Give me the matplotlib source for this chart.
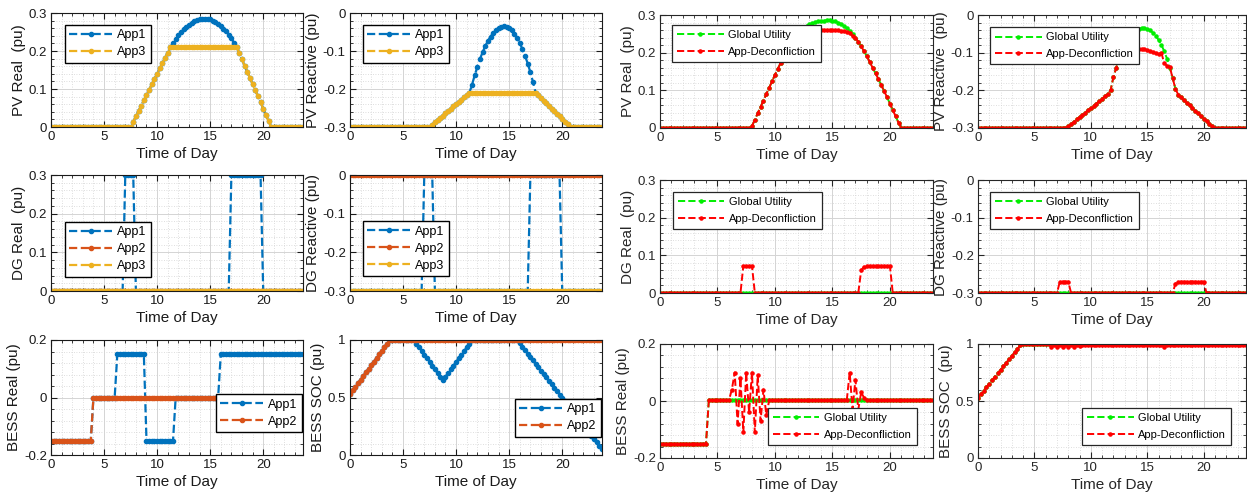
import numpy as np
import matplotlib.pyplot as plt
from matplotlib.ticker import MultipleLocator, FuncFormatter

plt.rcParams["font.family"] = ["Liberation Sans", "DejaVu Sans"]

W, H = 1247, 504

# 15-minute steps over one day
hours = np.arange(0, 24, 0.25)

# ---------------- left block: per-application dispatch ----------------
pv_real_app1 = ([0.0] * 31
                + [0.014, 0.028, 0.042, 0.056, 0.070, 0.084, 0.098, 0.112, 0.126, 0.140,
                   0.154, 0.168, 0.182, 0.196, 0.210]
                + [0.221, 0.231, 0.241, 0.249, 0.257, 0.263, 0.269, 0.274, 0.278, 0.281,
                   0.283, 0.285, 0.285, 0.284, 0.283, 0.280, 0.277, 0.272, 0.266, 0.259,
                   0.252, 0.243, 0.233, 0.222]
                + [0.210, 0.194, 0.178, 0.161, 0.145, 0.129, 0.113, 0.097, 0.081, 0.065,
                   0.048, 0.032, 0.016, 0.0]
                + [0.0] * 12)
pv_real_app3 = ([0.0] * 31
                + [0.014, 0.028, 0.042, 0.056, 0.070, 0.084, 0.098, 0.112, 0.126, 0.140,
                   0.154, 0.168, 0.182, 0.196, 0.210]
                + [0.210] * 24
                + [0.210, 0.194, 0.178, 0.161, 0.145, 0.129, 0.113, 0.097, 0.081, 0.065,
                   0.048, 0.032, 0.016, 0.0]
                + [0.0] * 12)

pv_reac_app1 = ([-0.3] * 31
                + [-0.294, -0.288, -0.282, -0.276, -0.270, -0.264, -0.258, -0.252, -0.246,
                   -0.240, -0.234, -0.228, -0.222, -0.216, -0.210]
                + [-0.189, -0.164, -0.142, -0.121, -0.103, -0.087, -0.073, -0.062, -0.052,
                   -0.045, -0.039, -0.036, -0.035, -0.036, -0.040, -0.046, -0.054, -0.065,
                   -0.079, -0.095, -0.113, -0.133, -0.156, -0.182]
                + [-0.210, -0.217, -0.224, -0.231, -0.238, -0.245, -0.252, -0.258, -0.265,
                   -0.272, -0.279, -0.286, -0.293, -0.300]
                + [-0.3] * 12)
pv_reac_app3 = ([-0.3] * 31
                + [-0.294, -0.288, -0.282, -0.276, -0.270, -0.264, -0.258, -0.252, -0.246,
                   -0.240, -0.234, -0.228, -0.222, -0.216, -0.210]
                + [-0.210] * 24
                + [-0.210, -0.217, -0.224, -0.231, -0.238, -0.245, -0.252, -0.258, -0.265,
                   -0.272, -0.279, -0.286, -0.293, -0.300]
                + [-0.3] * 12)

dg_real_app1 = [0.0] * 28 + [0.3] * 4 + [0.0] * 36 + [0.3] * 12 + [0.0] * 16
dg_real_app2 = [0.0] * 96
dg_real_app3 = [0.0] * 96

dg_reac_app1 = [-0.3] * 28 + [0.0] * 4 + [-0.3] * 36 + [0.0] * 12 + [-0.3] * 16
dg_reac_app2 = [0.0] * 96
dg_reac_app3 = [-0.3] * 96

bess_real_app1 = [-0.15] * 16 + [0.0] * 9 + [0.15] * 11 + [-0.15] * 11 + [0.0] * 17 + [0.15] * 32
bess_real_app2 = [-0.15] * 16 + [0.0] * 80

soc_ramp = [0.53, 0.561, 0.593, 0.624, 0.655, 0.687, 0.718, 0.749, 0.781, 0.812,
            0.843, 0.875, 0.906, 0.937, 0.969, 1.0]
bess_soc_app1 = (soc_ramp + [1.0] * 9
                 + [0.968, 0.936, 0.905, 0.873, 0.841, 0.809, 0.777, 0.745, 0.714, 0.682, 0.650]
                 + [0.682, 0.714, 0.745, 0.777, 0.809, 0.841, 0.873, 0.905, 0.936, 0.968, 1.0]
                 + [1.0] * 17
                 + [0.970, 0.941, 0.911, 0.881, 0.852, 0.822, 0.792, 0.763, 0.733, 0.703,
                    0.674, 0.644, 0.614, 0.584, 0.555, 0.525, 0.495, 0.466, 0.436, 0.406,
                    0.377, 0.347, 0.317, 0.288, 0.258, 0.228, 0.198, 0.169, 0.139, 0.109,
                    0.080, 0.050])
bess_soc_app2 = soc_ramp + [1.0] * 80

# ---------------- right block: global utility vs app-deconfliction ----------------
pv_real_gu = ([0.0] * 32
              + [0.005, 0.022, 0.039, 0.056, 0.073, 0.090, 0.107, 0.124, 0.141, 0.157,
                 0.173, 0.189, 0.204, 0.218, 0.231, 0.242, 0.252, 0.260, 0.266, 0.271,
                 0.275, 0.278, 0.281, 0.283, 0.284, 0.285, 0.286, 0.286, 0.285, 0.283,
                 0.280, 0.276, 0.271, 0.265, 0.258, 0.250, 0.240, 0.229, 0.217, 0.204,
                 0.190, 0.175, 0.160, 0.145, 0.130, 0.114, 0.098, 0.082, 0.065, 0.048,
                 0.031, 0.014]
              + [0.0] * 12)
pv_real_ad = ([0.0] * 32
              + [0.005, 0.022, 0.039, 0.056, 0.073, 0.090, 0.107, 0.124, 0.141, 0.157,
                 0.173, 0.189, 0.204, 0.218, 0.231, 0.242, 0.252, 0.260]
              + [0.262, 0.262, 0.262, 0.262, 0.262, 0.261, 0.261, 0.261, 0.260, 0.260,
                 0.260, 0.259, 0.259, 0.258, 0.257, 0.256, 0.252, 0.244, 0.240]
              + [0.229, 0.217, 0.204, 0.190, 0.175, 0.160, 0.145, 0.130, 0.114, 0.098,
                 0.082, 0.065, 0.048, 0.031, 0.014]
              + [0.0] * 12)

pv_reac_gu = ([-0.3] * 32
              + [-0.296, -0.290, -0.284, -0.277, -0.271, -0.265, -0.259, -0.253, -0.247,
                 -0.241, -0.235, -0.229, -0.222, -0.216, -0.210, -0.200, -0.165, -0.140,
                 -0.117, -0.097, -0.080, -0.066, -0.054, -0.045, -0.039, -0.036, -0.035,
                 -0.035, -0.037, -0.041, -0.047, -0.055, -0.066, -0.079, -0.096, -0.116,
                 -0.140, -0.167, -0.196, -0.212, -0.219, -0.226, -0.233, -0.240, -0.247,
                 -0.254, -0.261, -0.268, -0.275, -0.282, -0.289, -0.296]
              + [-0.3] * 12)
pv_reac_ad = ([-0.3] * 32
              + [-0.296, -0.290, -0.284, -0.277, -0.271, -0.265, -0.259, -0.253, -0.247,
                 -0.241, -0.235, -0.229, -0.222, -0.216, -0.210, -0.200, -0.165, -0.140,
                 -0.117]
              + [-0.100, -0.096, -0.095, -0.094, -0.093, -0.092, -0.091, -0.090, -0.091,
                 -0.093, -0.096, -0.099, -0.102, -0.104, -0.100, -0.128, -0.135, -0.138,
                 -0.168, -0.196]
              + [-0.212, -0.219, -0.226, -0.233, -0.240, -0.247, -0.254, -0.261, -0.268,
                 -0.275, -0.282, -0.289, -0.296]
              + [-0.3] * 12)

dg_real_gu = [0.0] * 96
dg_real_ad = [0.0] * 29 + [0.072] * 4 + [0.0] * 37 + [0.060, 0.070] + [0.072] * 9 + [0.0] * 15

dg_reac_gu = [-0.3] * 96
dg_reac_ad = [-0.3] * 29 + [-0.27] * 4 + [-0.3] * 37 + [-0.275, -0.27] + [-0.27] * 9 + [-0.3] * 15

bess_real_gu = [-0.15] * 17 + [0.003] * 79
bess_real_ad = ([-0.15] * 17 + [0.003] * 8
                + [0.04, 0.10, -0.08, 0.08, -0.11, 0.10, -0.04, 0.10, -0.11, 0.09, -0.07,
                   0.04, -0.05]
                + [0.003] * 28
                + [0.10, -0.03, 0.075, -0.03, 0.03, 0.012]
                + [0.003] * 24)

soc_ramp_gu = [0.53, 0.560, 0.591, 0.621, 0.652, 0.682, 0.713, 0.743, 0.774, 0.804,
               0.835, 0.865, 0.896, 0.926, 0.957, 0.987]
bess_soc_gu = soc_ramp_gu + [1.0] * 80
bess_soc_ad = (soc_ramp_gu + [1.0] * 10
               + [0.975, 0.99, 0.975, 0.99, 0.975, 0.99, 0.975, 0.99, 0.975, 0.99, 0.985]
               + [0.995] * 29 + [0.975] + [0.99] * 29)

app_labels = ["App1", "App2", "App3"]
app_colors = ["#0072BD", "#D95319", "#EDB120"]
cmp_labels = ["Global Utility", "App-Deconfliction"]
cmp_colors = ["#00EE00", "#FF0000"]

fig = plt.figure(figsize=(W / 100, H / 100), dpi=100)


def make_axes(l, t, r, b):
    return fig.add_axes([l / W, 1 - b / H, (r - l) / W, (b - t) / H])


fmt = FuncFormatter(lambda v, p: "%g" % round(v, 3) if abs(v) > 1e-9 else "0")


def style(ax, ylim, ymajor, yminor, ylabel, dark):
    ax.set_xlim(0, 23.75)
    ax.set_ylim(*ylim)
    ax.xaxis.set_major_locator(MultipleLocator(5))
    ax.xaxis.set_minor_locator(MultipleLocator(1))
    ax.yaxis.set_major_locator(MultipleLocator(ymajor))
    ax.yaxis.set_minor_locator(MultipleLocator(yminor))
    ax.yaxis.set_major_formatter(fmt)
    ax.grid(True, which="major", color="#d4d4d4", lw=0.7, ls="-")
    ax.grid(True, which="minor", color="#d4d4d4", lw=0.6, ls=(0, (1, 2)))
    ax.set_axisbelow(True)
    ax.tick_params(which="both", direction="in", top=True, right=True,
                   labelsize=9.5, colors=dark, labelcolor=dark, pad=3)
    ax.tick_params(which="major", length=4)
    ax.tick_params(which="minor", length=2)
    for s in ax.spines.values():
        s.set_color(dark)
        s.set_linewidth(0.8)
    ax.set_xlabel("Time of Day", fontsize=11, color=dark, labelpad=3)
    ax.set_ylabel(ylabel, fontsize=11, color=dark, labelpad=2)


left_cols = [(51, 303), (350, 602)]
left_rows = [(13, 127), (175, 291), (340, 455)]
right_cols = [(660, 933), (978, 1246)]
right_rows = [(15, 128), (180, 293), (344, 458)]

left_panels = [
    ("PV Real  (pu)", [pv_real_app1, None, pv_real_app3], (0, 0.3), 0.1, 0.02,
     "upper left", (0.056, 0.895)),
    ("PV Reactive (pu)", [pv_reac_app1, None, pv_reac_app3], (-0.3, 0), 0.1, 0.02,
     "upper left", (0.052, 0.895)),
    ("DG Real  (pu)", [dg_real_app1, dg_real_app2, dg_real_app3], (0, 0.3), 0.1, 0.02,
     "upper left", (0.056, 0.595)),
    ("DG Reactive (pu)", [dg_reac_app1, dg_reac_app2, dg_reac_app3], (-0.3, 0), 0.1, 0.02,
     "upper left", (0.052, 0.6)),
    ("BESS Real (pu)", [bess_real_app1, bess_real_app2, None], (-0.2, 0.2), 0.2, 0.04,
     "lower right", (0.995, 0.2)),
    ("BESS SOC (pu)", [bess_soc_app1, bess_soc_app2, None], (0, 1), 0.5, 0.1,
     "lower right", (0.995, 0.16)),
]

for i, (ylabel, series, ylim, ymaj, ymin, loc, anchor) in enumerate(left_panels):
    row, col = divmod(i, 2)
    l, r = left_cols[col]
    t, b = left_rows[row]
    ax = make_axes(l, t, r, b)
    for y, lab, c in zip(series, app_labels, app_colors):
        if y is None:
            continue
        ax.plot(hours, y, "--", marker=".", color=c, lw=1.6, ms=6, label=lab,
                clip_on=True)
    style(ax, ylim, ymaj, ymin, ylabel, "#1a1a1a")
    leg = ax.legend(loc=loc, bbox_to_anchor=anchor, fontsize=9, fancybox=False,
                    edgecolor="black", framealpha=1, borderpad=0.35, labelspacing=0.4,
                    handlelength=3.4, handletextpad=0.4, borderaxespad=0)
    leg.get_frame().set_linewidth(1.0)

right_panels = [
    ("PV Real  (pu)", [pv_real_gu, pv_real_ad], (0, 0.3), 0.1, 0.02,
     "upper left", (0.044, 0.91)),
    ("PV Reactive  (pu)", [pv_reac_gu, pv_reac_ad], (-0.3, 0), 0.1, 0.02,
     "upper left", (0.045, 0.89)),
    ("DG Real  (pu)", [dg_real_gu, dg_real_ad], (0, 0.3), 0.1, 0.02,
     "upper left", (0.047, 0.894)),
    ("DG Reactive (pu)", [dg_reac_gu, dg_reac_ad], (-0.3, 0), 0.1, 0.02,
     "upper left", (0.045, 0.894)),
    ("BESS Real (pu)", [bess_real_gu, bess_real_ad], (-0.2, 0.2), 0.2, 0.04,
     "lower right", (0.94, 0.114)),
    ("BESS SOC  (pu)", [bess_soc_gu, bess_soc_ad], (0, 1), 0.5, 0.1,
     "lower right", (0.944, 0.114)),
]

for i, (ylabel, series, ylim, ymaj, ymin, loc, anchor) in enumerate(right_panels):
    row, col = divmod(i, 2)
    l, r = right_cols[col]
    t, b = right_rows[row]
    ax = make_axes(l, t, r, b)
    for y, lab, c in zip(series, cmp_labels, cmp_colors):
        ax.plot(hours, y, "--", marker=".", color=c, lw=1.4, ms=4.5, label=lab)
    style(ax, ylim, ymaj, ymin, ylabel, "#262626")
    leg = ax.legend(loc=loc, bbox_to_anchor=anchor, fontsize=8, fancybox=False,
                    edgecolor="#262626", framealpha=1, borderpad=0.45, labelspacing=0.6,
                    handlelength=4.2, handletextpad=0.4, borderaxespad=0)
    leg.get_frame().set_linewidth(0.9)

fig.savefig("out.png", dpi=100)
